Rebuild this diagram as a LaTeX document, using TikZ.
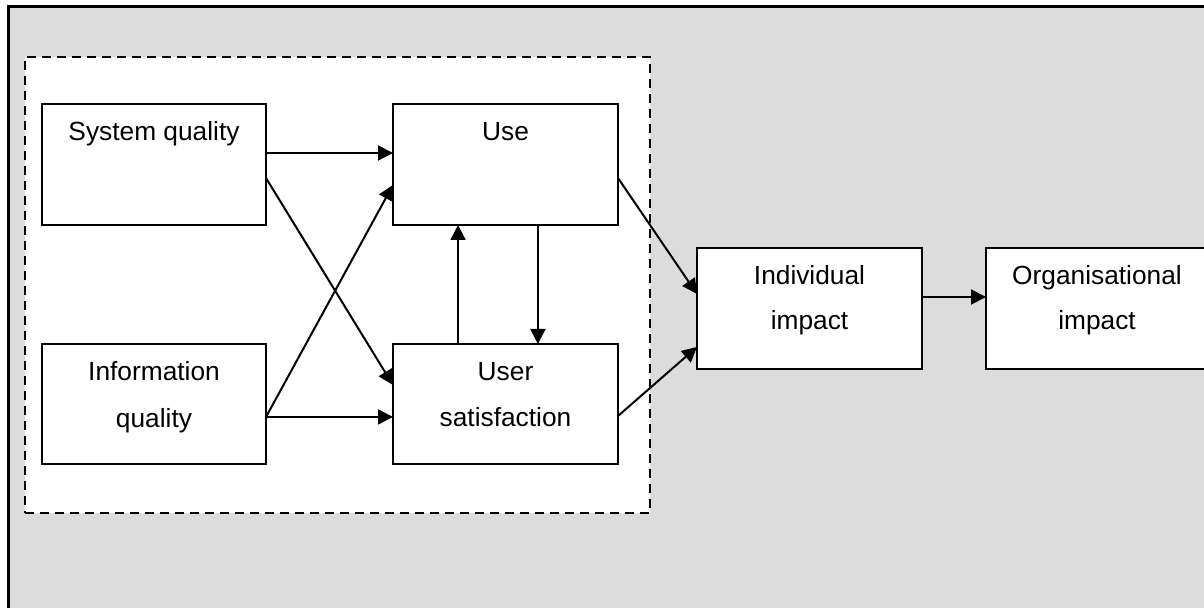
\documentclass[tikz,border=0pt]{standalone}
\usepackage{fontspec}
\setmainfont{Liberation Sans}
\usetikzlibrary{arrows.meta,calc}
\definecolor{panelgray}{HTML}{DCDCDC}
\begin{document}
\begin{tikzpicture}[x=0.5pt,y=-0.5pt,
  box/.style={draw=black,fill=white,line width=1pt,inner sep=0pt,outer sep=0pt},
  groupbox/.style={draw=black,fill=white,line width=1.1pt,dash pattern=on 4.5pt off 3pt,inner sep=0pt,outer sep=0pt},
  lbl/.style={anchor=base,inner sep=0pt,font=\fontsize{13.15}{15}\selectfont},
  arr/.style={line width=1pt,-{Triangle[length=7.5pt,width=7.5pt]}}]
\useasboundingbox (0,0) rectangle (1204,608);
\clip (0,0) rectangle (1204,608);
\fill[white] (0,0) rectangle (1204,608);
% outer panel
\draw[fill=panelgray,line width=1.5pt] (8,7) rectangle (1240,640);
% dashed group around the quality / use / satisfaction boxes
\node[groupbox,minimum width=312.5pt,minimum height=228pt] (grp) at (337.5,285) {};

% boxes
\node[box,minimum width=112pt,minimum height=60.5pt] (sq)  at (154,164.5) {};
\node[box,minimum width=112.5pt,minimum height=60.5pt] (use) at (505.5,164.5) {};
\node[box,minimum width=112pt,minimum height=60pt] (iq)  at (154,404) {};
\node[box,minimum width=112.5pt,minimum height=60pt] (us)  at (505.5,404) {};
\node[box,minimum width=112.5pt,minimum height=60.5pt] (ind) at (809.5,308.5) {};
\node[box,minimum width=111pt,minimum height=60.5pt] (org) at (1097,308.5) {};

% labels
\node[lbl] (sq1)  at ($(sq.north)+(0,37)$) {System quality};
\node[lbl] (use1) at ($(use.north)+(0,37)$) {Use};
\node[lbl] (iq1)  at ($(iq.north)+(0,37)$) {Information};
\node[lbl] (iq2)  at ($(iq.north)+(0,84)$) {quality};
\node[lbl] (us1)  at ($(us.north)+(0,37)$) {User};
\node[lbl] (us2)  at ($(us.north)+(0,83)$) {satisfaction};
\node[lbl] (ind1) at ($(ind.north)+(0,37)$) {Individual};
\node[lbl] (ind2) at ($(ind.north)+(0,82)$) {impact};
\node[lbl] (org1) at ($(org.north)+(0,37)$) {Organisational};
\node[lbl] (org2) at ($(org.north)+(0,82)$) {impact};

% connectors
\draw[arr] ($(sq.north east)!0.405!(sq.south east)$) -- ($(use.north west)!0.405!(use.south west)$);
\draw[arr] ($(sq.north east)!0.612!(sq.south east)$) -- ($(us.north west)!0.342!(us.south west)$);
\draw[arr] ($(iq.north east)!0.608!(iq.south east)$) -- ($(use.north west)!0.669!(use.south west)$);
\draw[arr] ($(iq.north east)!0.608!(iq.south east)$) -- ($(us.north west)!0.608!(us.south west)$);
\draw[arr] ($(us.north west)!0.289!(us.north east)$) -- ($(use.south west)!0.289!(use.south east)$);
\draw[arr] ($(use.south west)!0.644!(use.south east)$) -- ($(us.north west)!0.644!(us.north east)$);
\draw[arr] ($(use.north east)!0.612!(use.south east)$) -- ($(ind.north west)!0.38!(ind.south west)$);
\draw[arr] ($(us.north east)!0.6!(us.south east)$) -- ($(ind.north west)!0.818!(ind.south west)$);
\draw[arr] ($(ind.north east)!0.405!(ind.south east)$) -- ($(org.north west)!0.405!(org.south west)$);
\end{tikzpicture}
\end{document}
